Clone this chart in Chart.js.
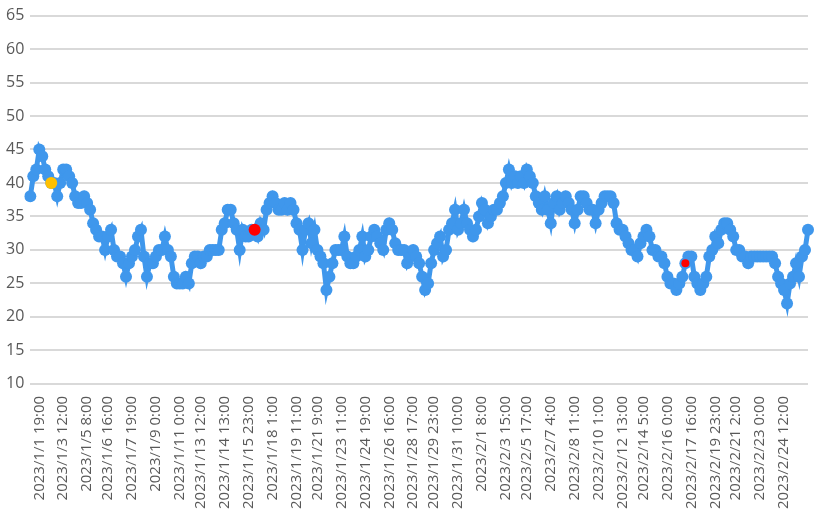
<!DOCTYPE html>
<html>
<head>
<meta charset="utf-8">
<script src="https://cdn.jsdelivr.net/npm/chart.js@4"></script>
<style>
  body { margin: 0; background: #fff; }
</style>
</head>
<body>
<canvas id="chart" width="818" height="513"></canvas>
<script>
const values = [
  38,41,42,45,44,42,41,40,40,38,40,42,42,41,40,38,37,37,38,37,36,34,33,32,32,30,32,33,30,29,
  29,28,26,28,29,30,32,33,29,26,28,28,29,30,30,32,30,29,26,25,25,25,26,25,28,29,29,28,29,29,
  30,30,30,30,33,34,36,36,34,33,30,33,32,32,33,33,32,34,33,36,37,38,37,36,36,37,36,37,36,34,
  33,30,33,34,31,33,30,29,28,24,26,28,30,30,30,32,29,28,28,29,30,32,29,30,32,33,32,31,30,33,
  34,33,31,30,30,30,28,29,30,29,28,26,24,25,28,30,31,32,29,30,33,34,36,33,34,36,34,33,32,33,
  35,37,36,34,35,36,36,37,38,40,42,40,41,40,41,40,42,41,40,38,37,36,38,36,34,37,38,36,37,38,
  37,36,34,36,38,38,37,36,36,34,36,37,38,38,38,37,34,33,33,32,31,30,30,29,31,32,33,32,30,30,
  29,29,28,26,25,25,24,25,26,28,29,29,26,25,24,25,26,29,30,32,31,33,34,34,33,32,30,30,29,29,
  28,29,29,29,29,29,29,29,29,28,26,25,24,22,25,26,28,26,29,30,33
];

const tickLabels = [
  "2023/1/1 19:00","2023/1/3 12:00","2023/1/5 8:00","2023/1/6 16:00","2023/1/7 19:00",
  "2023/1/9 0:00","2023/1/11 0:00","2023/1/13 12:00","2023/1/14 13:00","2023/1/15 23:00",
  "2023/1/18 1:00","2023/1/19 11:00","2023/1/21 9:00","2023/1/23 11:00","2023/1/24 19:00",
  "2023/1/26 16:00","2023/1/28 17:00","2023/1/29 23:00","2023/1/31 10:00","2023/2/1 8:00",
  "2023/2/3 15:00","2023/2/5 17:00","2023/2/7 4:00","2023/2/8 11:00","2023/2/10 1:00",
  "2023/2/12 13:00","2023/2/14 5:00","2023/2/16 0:00","2023/2/17 16:00","2023/2/19 23:00",
  "2023/2/21 2:00","2023/2/23 0:00","2023/2/24 12:00"
];

// highlighted points: index -> colour, radius
const highlightIdx = [7, 75, 219];
const highlightColors = ["#FFC000", "#FF0000", "#FF0000"];
const highlightRadius = [6, 6, 4];

const BLUE = "#3F97EC";

// category labels, only some of them get a visible tick text
const labels = values.map(() => "");
tickLabels.forEach((t, i) => {
  labels[Math.round(3 + i * 249 / 32)] = t;
});

const hlData = values.map(() => null);
const hlColor = values.map(() => "transparent");
const hlRadius = values.map(() => 0);
highlightIdx.forEach((idx, k) => {
  hlData[idx] = values[idx];
  hlColor[idx] = highlightColors[k];
  hlRadius[idx] = highlightRadius[k];
});

new Chart(document.getElementById("chart"), {
  type: "line",
  data: {
    labels,
    datasets: [{
      data: hlData,
      showLine: false,
      pointBackgroundColor: hlColor,
      pointBorderWidth: 0,
      pointRadius: hlRadius,
      order: 0
    }, {
      data: values,
      borderColor: BLUE,
      borderWidth: 5,
      pointBackgroundColor: BLUE,
      pointBorderWidth: 0,
      pointRadius: 6,
      tension: 0,
      order: 1
    }]
  },
  options: {
    responsive: false,
    animation: false,
    layout: { padding: { top: 8, right: 10, left: 0, bottom: 0 } },
    plugins: { legend: { display: false }, tooltip: { enabled: false } },
    scales: {
      x: {
        offset: false,
        grid: { display: false },
        border: { display: false },
        ticks: {
          autoSkip: false,
          minRotation: 90,
          maxRotation: 90,
          padding: 4,
          color: "#595959",
          font: { family: "Open Sans", size: 15 },
          callback: (v, i) => labels[i] || null
        }
      },
      y: {
        min: 10,
        max: 65,
        border: { display: false },
        grid: { color: "#d9d9d9", lineWidth: 2, drawTicks: false },
        ticks: {
          stepSize: 5,
          padding: 6,
          color: "#595959",
          font: { family: "Open Sans", size: 16 }
        }
      }
    }
  }
});
</script>
</body>
</html>
